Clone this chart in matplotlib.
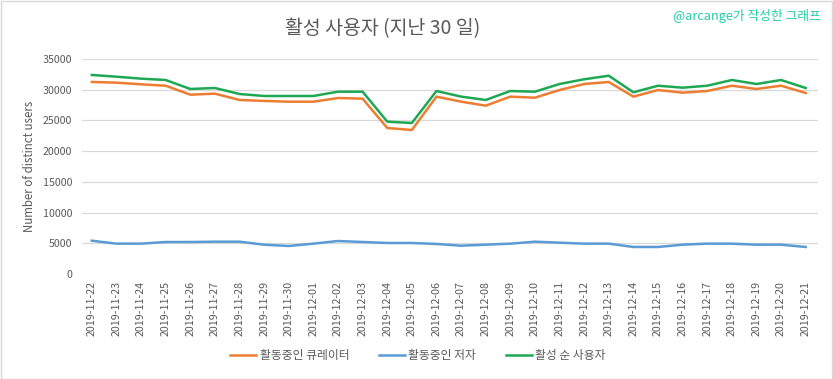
import matplotlib
matplotlib.use("Agg")
import matplotlib.pyplot as plt
from matplotlib.patches import Rectangle

plt.rcParams['font.family'] = ['Noto Sans CJK KR', 'DejaVu Sans']

dates = ["2019-11-22", "2019-11-23", "2019-11-24", "2019-11-25", "2019-11-26", "2019-11-27",
         "2019-11-28", "2019-11-29", "2019-11-30", "2019-12-01", "2019-12-02", "2019-12-03",
         "2019-12-04", "2019-12-05", "2019-12-06", "2019-12-07", "2019-12-08", "2019-12-09",
         "2019-12-10", "2019-12-11", "2019-12-12", "2019-12-13", "2019-12-14", "2019-12-15",
         "2019-12-16", "2019-12-17", "2019-12-18", "2019-12-19", "2019-12-20", "2019-12-21"]

curators = [31260, 31150, 30880, 30650, 29190, 29360, 28330, 28170, 28050, 28050,
            28650, 28540, 23770, 23440, 28870, 28060, 27400, 28870, 28700, 29950,
            30930, 31260, 28870, 29950, 29520, 29790, 30650, 30120, 30650, 29470]

authors = [5420, 4940, 4940, 5210, 5210, 5260, 5260, 4770, 4560, 4940,
           5370, 5210, 5050, 5050, 4890, 4610, 4770, 4940, 5260, 5100,
           4940, 4940, 4400, 4400, 4770, 4940, 4940, 4770, 4770, 4400]

active = [32400, 32120, 31800, 31580, 30120, 30280, 29300, 28980, 28980, 28980,
          29680, 29680, 24800, 24580, 29790, 28880, 28330, 29790, 29680, 30930,
          31700, 32280, 29580, 30650, 30330, 30650, 31580, 30930, 31580, 30280]

series_names = ["활동중인 큐레이터", "활동중인 저자", "활성 순 사용자"]
colors = ["#ED7D31", "#5B9BD5", "#1EA853"]
yticks = [0, 5000, 10000, 15000, 20000, 25000, 30000, 35000]

W, H = 833, 379
fig = plt.figure(figsize=(W / 100, H / 100), dpi=100)
ax = fig.add_axes([82 / W, 1 - 274 / H, (818 - 82) / W, (274 - 59) / H])

x = list(range(len(dates)))
for vals, name, c in zip([curators, authors, active], series_names, colors):
    ax.plot(x, vals, color=c, lw=1.8, label=name, solid_joinstyle='round')

ax.set_ylim(0, 35000)
ax.set_xlim(-0.4, len(dates) - 0.5)
ax.set_yticks(yticks)
ax.set_yticklabels([str(v) for v in yticks])
ax.set_xticks(x)
ax.set_xticklabels(dates, rotation=90)
ax.grid(axis='y', color='#D9D9D9', lw=0.9)
ax.set_axisbelow(True)
for s in ax.spines.values():
    s.set_visible(False)
ax.tick_params(axis='both', length=0, colors='#595959', labelsize=7.7)
ax.tick_params(axis='y', pad=7)
ax.tick_params(axis='x', pad=5)
ax.set_ylabel("Number of distinct users", color='#595959', fontsize=8.3, labelpad=5)

fig.text(383 / W, 1 - 29 / H, "활성 사용자 (지난 30 일)", ha='center', va='center',
         fontsize=14, color='#595959')
fig.text(821 / W, 1 - 16 / H, "@arcange가 작성한 그래프", ha='right', va='center',
         fontsize=9.2, color='#26CCAA')

leg = fig.legend(loc='center', bbox_to_anchor=(418 / W, 1 - 356 / H), ncol=3,
                 frameon=False, fontsize=8.5, handlelength=2.2, handletextpad=0.3,
                 columnspacing=2.5, labelcolor='#595959')

fig.patches.append(Rectangle((0.5 / W, 0.5 / H), 1 - 1.5 / W, 1 - 1.5 / H, transform=fig.transFigure,
                             fill=False, edgecolor='#D9D9D9', lw=1))

fig.savefig("out.png", dpi=100)
